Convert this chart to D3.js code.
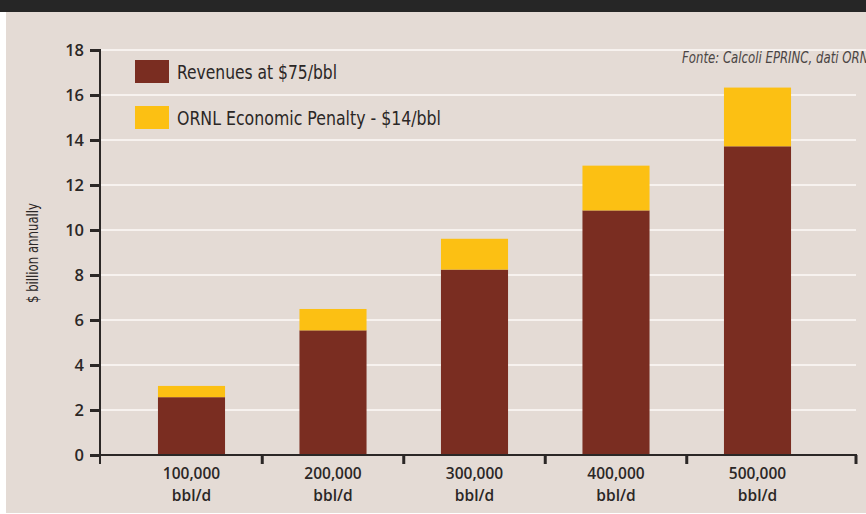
<!DOCTYPE html>
<html>
<head>
<meta charset="utf-8">
<script src="https://cdn.jsdelivr.net/npm/d3@7"></script>
<style>
  html, body { margin: 0; padding: 0; background: #ffffff; }
  svg { display: block; }
</style>
</head>
<body>
<svg id="chart" width="866" height="514"></svg>
<script>
// Capacity scenarios (barrels per day)
const categories = ["100,000", "200,000", "300,000", "400,000", "500,000"];
// $ billion annually
const revenues = [2.57, 5.54, 8.24, 10.87, 13.72];
const penalty = [0.50, 0.95, 1.37, 1.99, 2.61];
const seriesNames = ["Revenues at $75/bbl", "ORNL Economic Penalty - $14/bbl"];
const yTicks = [0, 2, 4, 6, 8, 10, 12, 14, 16, 18];
const unitLabel = "bbl/d";
const yTitle = "$ billion annually";
const sourceNote = "Fonte: Calcoli EPRINC, dati ORNL";

const colors = { revenue: "#7a2d21", penalty: "#fcc013" };
const bg = "#e4dbd5";
const ink = "#2b2726";
const condensed = "'Liberation Sans Narrow', 'DejaVu Sans Condensed', 'Roboto Condensed', sans-serif";
const tickFont = "'Open Sans', 'Noto Sans', sans-serif";

const svg = d3.select("#chart");
const W = 866, H = 514;

// panel background and dark header band
svg.append("rect").attr("x", 6).attr("y", 12).attr("width", W - 6).attr("height", H - 13).attr("fill", bg);
svg.append("rect").attr("x", 0).attr("y", 0).attr("width", W).attr("height", 12).attr("fill", "#262626");

const plot = { left: 100, right: 856, top: 50, bottom: 455 };

const y = d3.scaleLinear().domain([0, 18]).range([plot.bottom, plot.top]);
const x = d3.scaleBand()
  .domain(categories)
  .range([120.75, 828.25])
  .paddingInner(0.526)
  .paddingOuter(0.263);

// horizontal gridlines
svg.append("g")
  .selectAll("line")
  .data(yTicks.filter(d => d > 0))
  .join("line")
  .attr("x1", plot.left)
  .attr("x2", d => d === 18 ? W : plot.right)
  .attr("y1", d => y(d))
  .attr("y2", d => y(d))
  .attr("stroke", "#f7f2ef")
  .attr("stroke-width", 2);

// stacked bars
const stacked = categories.map((c, i) => ({ cat: c, rev: revenues[i], pen: penalty[i] }));
const bars = svg.append("g");
bars.selectAll("rect.rev")
  .data(stacked)
  .join("rect")
  .attr("class", "rev")
  .attr("x", d => x(d.cat))
  .attr("width", x.bandwidth())
  .attr("y", d => y(d.rev))
  .attr("height", d => y(0) - y(d.rev))
  .attr("fill", colors.revenue);
bars.selectAll("rect.pen")
  .data(stacked)
  .join("rect")
  .attr("class", "pen")
  .attr("x", d => x(d.cat))
  .attr("width", x.bandwidth())
  .attr("y", d => y(d.rev + d.pen))
  .attr("height", d => y(d.rev) - y(d.rev + d.pen))
  .attr("fill", colors.penalty);

// y axis
const yAxis = d3.axisLeft(y).tickValues(yTicks).tickSize(10).tickPadding(6).tickFormat(d3.format("d"));
const gy = svg.append("g").attr("transform", `translate(${plot.left},0)`).call(yAxis);
gy.select(".domain").remove();
gy.selectAll(".tick line").attr("stroke", ink).attr("stroke-width", 3);
gy.selectAll(".tick text")
  .attr("fill", ink)
  .style("font-family", tickFont)
  .style("font-size", "16.5px")
  .style("font-weight", 600);
svg.append("line")
  .attr("x1", plot.left).attr("x2", plot.left)
  .attr("y1", plot.top - 1).attr("y2", plot.bottom + 9)
  .attr("stroke", ink).attr("stroke-width", 2);

// x axis: baseline with ticks on band boundaries
svg.append("line")
  .attr("x1", plot.left).attr("x2", plot.right + 1)
  .attr("y1", plot.bottom).attr("y2", plot.bottom)
  .attr("stroke", ink).attr("stroke-width", 2);
const step = x.step();
const bounds = categories.slice(0, -1).map(c => x(c) + x.bandwidth() + (step - x.bandwidth()) / 2);
bounds.push(plot.right);
svg.append("g")
  .selectAll("line")
  .data(bounds)
  .join("line")
  .attr("x1", d => d).attr("x2", d => d)
  .attr("y1", plot.bottom).attr("y2", plot.bottom + 9)
  .attr("stroke", ink).attr("stroke-width", 3);

// category labels, two lines each
const cx = d => x(d) + x.bandwidth() / 2;
const xLabels = svg.append("g")
  .attr("fill", ink)
  .attr("text-anchor", "middle")
  .style("font-family", tickFont)
  .style("font-size", "15.5px")
  .style("font-weight", 600);
xLabels.selectAll("text.num")
  .data(categories)
  .join("text")
  .attr("class", "num")
  .attr("x", cx)
  .attr("y", 479)
  .text(d => d);
xLabels.selectAll("text.unit")
  .data(categories)
  .join("text")
  .attr("class", "unit")
  .attr("x", cx)
  .attr("y", 500.5)
  .text(unitLabel);

// fits a text element to a given width
function fit(sel, w) {
  sel.attr("textLength", w).attr("lengthAdjust", "spacingAndGlyphs");
}

// legend
const legend = svg.append("g");
const legendItems = [
  { name: seriesNames[0], color: colors.revenue, y: 60, w: 160 },
  { name: seriesNames[1], color: colors.penalty, y: 106, w: 264 }
];
legendItems.forEach(it => {
  legend.append("rect").attr("x", 135).attr("y", it.y).attr("width", 34).attr("height", 23).attr("fill", it.color);
  legend.append("text")
    .attr("x", 177).attr("y", it.y + 19)
    .attr("fill", ink)
    .style("font-family", condensed)
    .style("font-size", "20px")
    .style("font-weight", 500)
    .text(it.name)
    .call(fit, it.w);
});

// y axis title
svg.append("text")
  .attr("transform", "translate(38,253) rotate(-90)")
  .attr("text-anchor", "middle")
  .attr("fill", "#2b2726")
  .style("font-family", condensed)
  .style("font-size", "16px")
  .text(yTitle)
  .call(fit, 100);

// source note
svg.append("text")
  .attr("x", 682).attr("y", 63)
  .attr("fill", "#4a4544")
  .style("font-family", condensed)
  .style("font-size", "15px")
  .style("font-style", "italic")
  .text(sourceNote)
  .call(fit, 193);
</script>
</body>
</html>
